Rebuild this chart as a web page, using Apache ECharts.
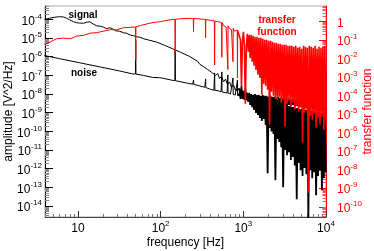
<!DOCTYPE html>
<html><head><meta charset="utf-8">
<script src="https://cdn.jsdelivr.net/npm/echarts@6/dist/echarts.min.js"></script>
<style>html,body{margin:0;padding:0;background:#fff}#c{width:374px;height:251px}</style>
</head><body><div id="c"></div>
<script>
// ---------- data ----------
const signalLowFreq = [3.95,4.54,5.22,6.0,6.71,7.3,7.93,8.87,9.64,10.5,11.7,12.7,13.9,15.5,16.8,18.8,20.5,22.3,24.2,26.3,28.6,32.0,35.7,38.9,43.5,47.2,51.4,55.8,62.4,73.8,89.7,112,140,175,225,281,297,314,332,351,371,392,415,438,463,489,517,546,577,610,645,681,720,761,804];
const signalLowPSD = [1.0e-4,1.16e-4,1.31e-4,1.40e-4,1.35e-4,1.16e-4,9.6e-5,7.5e-5,6.65e-5,6.4e-5,6.25e-5,7.1e-5,7.5e-5,5.5e-5,4.6e-5,4.3e-5,3.8e-5,3.16e-5,3.6e-5,3.16e-5,2.47e-5,2.32e-5,1.93e-5,1.81e-5,1.42e-5,1.33e-5,1.17e-5,1.13e-5,9.2e-6,7.6e-6,6.1e-6,4.1e-6,2.66e-6,1.72e-6,1.03e-6,5.7e-7,4.0e-7,4.9e-7,2.9e-7,3.6e-7,2.07e-7,2.53e-7,1.45e-7,1.79e-7,9.9e-8,1.28e-7,6.8e-8,9.0e-8,4.5e-8,6.3e-8,3.2e-8,4.5e-8,2.3e-8,3.1e-8,1.6e-8];

const noiseLowFreq = [3.95,6.0,10.5,18.8,32,46,49.7,50,50.3,62,80,97,99.5,100,100.5,103,140,149,150,151,200,245,248.5,250,251.5,300,343,348,350,352,400,441,447,450,453,500,539,547,550,553,600,637,646,650,654,700,735,745,750,755,800,833,845,850,855,867];
const noiseLowPSD = [1.16e-6,7.9e-7,4.75e-7,2.8e-7,1.72e-7,1.2e-7,1.2e-7,7.4e-6,1.18e-7,1.0e-7,7.8e-8,7.5e-8,7.4e-8,9.5e-8,7.4e-8,7.3e-8,5.4e-8,5.3e-8,2.2e-6,5.2e-8,4.0e-8,3.4e-8,3.35e-8,5.7e-8,3.3e-8,2.7e-8,2.3e-8,2.28e-8,6.5e-8,2.25e-8,1.8e-8,1.6e-8,1.59e-8,1.36e-7,1.58e-8,1.5e-8,1.32e-8,1.31e-8,1.54e-7,1.3e-8,1.2e-8,1.15e-8,1.14e-8,1.06e-7,1.12e-8,1.0e-8,9.7e-9,9.6e-9,7.3e-8,9.5e-9,8.9e-9,8.3e-9,8.2e-9,5.7e-8,8.1e-9,8.0e-9];

const tfLowFreq = [3.95,4.6,5.5,6.7,8.2,9.6,11.7,14.2,16.8,20.5,24.9,29.4,35.7,43.5,49.7,50,50.3,57.4,73.8,89.7,99.5,100,100.5,112,140,149,150,151,175,225,248.5,250,251.5,281,348,350,352,400,420,447,450,453,470,500,520,547,550,553,580,600,620,646,650,654,680,700,720,745,750,755,780,800,820,845,850,855];
const tfLowMag = [0.059,0.080,0.120,0.131,0.120,0.169,0.182,0.245,0.254,0.314,0.370,0.370,0.474,0.5,0.52,8.9e-3,0.53,0.63,0.83,0.96,1.0,0.8,1.02,1.13,1.33,1.35,0.020,1.36,1.45,1.51,1.5,0.29,1.49,1.45,1.33,0.136,1.3,1.2,1.0,1.1,4.5e-3,1.08,0.9,1.0,0.8,0.9,0.012,0.88,0.6,0.72,0.52,0.64,2.6e-3,0.6,0.43,0.52,0.37,0.47,6.9e-3,0.44,0.31,0.38,0.28,0.35,9.4e-4,0.33];

const hfFreq = [900,925,950,976,1003,1030,1058,1087,1117,1148,1179,1211,1244,1278,1313,1349,1386,1424,1463,1503,1544,1586,1630,1674,1720,1767,1816,1865,1916,1969,2023,2078,2135,2194,2254,2315,2379,2444,2511,2579,2650,2722,2797,2874,2952,3033,3116,3201,3289,3379,3471,3566,3664,3764,3867,3973,4081,4193,4308,4426,4547,4671,4799,4930,5065,5204,5346,5493,5643,5797,5956,6119,6286,6458,6635,6816,7003,7194,7391,7593,7801,8014,8233,8459,8690,8928,9172,9423,9681,9946];

const signalHfPSD = [1.9e-8,8.9e-9,1.7e-8,7.0e-9,1.5e-8,5.5e-9,1.3e-8,4.8e-9,1.15e-8,3.8e-9,
 1.0e-8,2.6e-9,8.9e-9,2.0e-9,7.9e-9,1.4e-9,7.9e-9,9.6e-10,7.0e-9,7.5e-10,
 6.2e-9,5.2e-10,6.2e-9,3.6e-10,5.5e-9,4.6e-10,4.8e-9,2.2e-10,4.8e-9,5.7e-13,
 4.3e-9,1.5e-10,4.3e-9,1.0e-10,3.8e-9,7.2e-11,3.8e-9,2.4e-13,3.3e-9,3.9e-11,
 3.3e-9,2.7e-11,2.9e-9,1.4e-11,2.9e-9,1.0e-13,2.6e-9,1.0e-11,2.6e-9,5.3e-12,
 2.3e-9,7.7e-12,2.3e-9,2.9e-12,2.0e-9,4.2e-12,2.0e-9,1.5e-12,1.8e-9,2.3e-14,
 1.8e-9,2.0e-12,1.6e-9,8.3e-13,1.6e-9,4.0e-13,1.4e-9,1.1e-12,1.4e-9,5.1e-13,
 1.4e-9,2e-15,1.2e-9,8.3e-13,1.2e-9,3.1e-13,1.2e-9,6.5e-13,1.1e-9,3.8e-14,
 1.1e-9,4.0e-13,1.1e-9,8.3e-13,9.6e-10,7.0e-14,9.6e-10,3.1e-13,9.6e-10,6.5e-13];

const noiseHfPSD = [1.15e-8,5.5e-9,2.7e-8,5.5e-9,1.15e-8,4.8e-9,2.1e-8,4.8e-9,1.0e-8,4.8e-9,
 1.15e-8,4.3e-9,1.0e-8,4.8e-9,8.9e-9,4.3e-9,1.0e-8,3.8e-9,8.9e-9,4.3e-9,
 8.9e-9,3.8e-9,7.9e-9,4.3e-9,8.9e-9,3.3e-9,7.9e-9,3.8e-9,7.9e-9,3.3e-9,
 7.0e-9,3.8e-9,7.9e-9,2.9e-9,7.0e-9,3.3e-9,7.0e-9,2.9e-9,6.2e-9,3.3e-9,
 7.0e-9,2.6e-9,6.2e-9,2.9e-9,6.2e-9,2.6e-9,5.5e-9,2.9e-9,6.2e-9,2.3e-9,
 5.5e-9,2.6e-9,5.5e-9,2.3e-9,4.8e-9,2.6e-9,5.5e-9,2.0e-9,4.8e-9,2.3e-9,
 4.8e-9,2.0e-9,4.3e-9,2.3e-9,4.8e-9,1.8e-9,4.3e-9,2.0e-9,4.3e-9,1.8e-9,
 3.8e-9,2.0e-9,4.3e-9,1.6e-9,3.8e-9,1.8e-9,3.8e-9,1.6e-9,3.3e-9,1.8e-9,
 3.8e-9,1.4e-9,3.3e-9,1.6e-9,3.3e-9,1.4e-9,2.9e-9,1.6e-9,3.3e-9,1.4e-9];

const tfHfMag = [0.326,0.106,3.1e-4,0.083,0.288,0.057,3.7e-5,0.039,0.225,0.024,
 0.198,0.011,0.198,6.9e-3,0.175,4.2e-3,0.155,2.5e-3,0.155,1.37e-3,
 0.137,9.4e-4,0.137,1.13e-4,0.12,4.5e-4,0.106,3.5e-4,0.106,2.1e-4,
 0.094,2.7e-6,0.094,1.65e-4,0.083,1.0e-4,0.073,6.9e-5,0.073,6.1e-5,
 0.065,8.8e-5,0.065,4.2e-5,0.057,6.1e-5,0.057,2.1e-6,0.057,3.7e-5,
 0.050,5.4e-5,0.050,2.6e-5,0.050,4.2e-5,0.045,1.8e-5,0.050,2.9e-5,
 0.039,1.37e-5,0.045,2.3e-5,0.035,2.9e-7,0.050,1.2e-5,0.045,1.8e-5,
 0.039,5.7e-10,0.050,8.3e-6,0.045,5.0e-6,0.039,1.06e-5,0.050,1.9e-6,
 0.035,6.5e-6,0.045,2.7e-6,0.039,7.3e-6,0.045,1.4e-6,0.050,5.0e-6];

// tick labels
const xMajorTicks = [10, 100, 1000, 10000];
const leftMajorTicks = [1e-14,1e-13,1e-12,1e-11,1e-10,1e-9,1e-8,1e-7,1e-6,1e-5,1e-4];
const rightMajorTicks = [1e-10,1e-9,1e-8,1e-7,1e-6,1e-5,1e-4,1e-3,1e-2,1e-1,1];

// ---------- build ----------
function minorOf(decades) {
  const out = [];
  decades.forEach(d => { for (let m = 2; m <= 9; m++) out.push(m * d); });
  return out;
}
const xMinorTicks = minorOf([1, 10, 100, 1000]);
const leftMinorTicks = minorOf([1e-15,1e-14,1e-13,1e-12,1e-11,1e-10,1e-9,1e-8,1e-7,1e-6,1e-5,1e-4]);
const rightMinorTicks = minorOf([1e-11,1e-10,1e-9,1e-8,1e-7,1e-6,1e-5,1e-4,1e-3,1e-2,1e-1,1]);

const zip = (a, b) => a.map((v, i) => [v, b[i]]);
const lastPair = (a, b) => [[a[a.length - 1], b[b.length - 1]]];
const signalLowData = zip(signalLowFreq, signalLowPSD);
const signalHfData = lastPair(signalLowFreq, signalLowPSD).concat(zip(hfFreq, signalHfPSD));
const noiseLowData = zip(noiseLowFreq, noiseLowPSD);
const noiseHfData = lastPair(noiseLowFreq, noiseLowPSD).concat(zip(hfFreq, noiseHfPSD));
const tfLowData = zip(tfLowFreq, tfLowMag);
const tfHfData = lastPair(tfLowFreq, tfLowMag).concat(zip(hfFreq, tfHfMag));

const FONT = '"Liberation Sans", Arial, Helvetica, sans-serif';
function powLabel(v) {
  const e = Math.round(Math.log10(v));
  if (e === 0) return '{b|1}';
  if (e === 1) return '{b|10}';
  return '{b|10}{s|' + e + '}';
}
function rich(color) {
  return {
    b: { fontSize: 12, lineHeight: 18, fontFamily: FONT, color: color },
    s: { fontSize: 8, lineHeight: 8, verticalAlign: 'top', fontFamily: FONT, color: color }
  };
}
const X_MIN = 4, X_MAX = 10000;
const YL_MIN = 2.57e-15, YL_MAX = 5.25e-4;
const YR_MIN = 2.82e-11, YR_MAX = 7.08;

function line(name, data, yIdx, color, width) {
  return { name: name, type: 'line', xAxisIndex: 0, yAxisIndex: yIdx, data: data, showSymbol: false, symbol: 'none',
    lineStyle: { color: color, width: width }, itemStyle: { color: color }, silent: true, animation: false };
}

const chart = echarts.init(document.getElementById('c'), null, { renderer: 'canvas' });
chart.setOption({
  animation: false,
  backgroundColor: '#fff',
  grid: { left: 45, top: 6, right: 48, bottom: 34, containLabel: false, outerBoundsMode: 'none',
          show: true, borderColor: '#aaaaaa', borderWidth: 1, backgroundColor: 'transparent' },
  xAxis: [
    { type: 'log', logBase: 10, min: X_MIN, max: X_MAX, position: 'bottom',
      name: 'frequency [Hz]', nameLocation: 'middle', nameGap: 20, nameMoveOverlap: false,
      nameTextStyle: { fontSize: 12, fontFamily: FONT, color: '#000' },
      axisLine: { show: true, onZero: false, lineStyle: { color: '#444', width: 1 } },
      axisTick: { show: true, inside: true, length: 6, customValues: xMajorTicks, lineStyle: { color: '#333' } },
      axisLabel: { show: true, customValues: xMajorTicks, formatter: powLabel, rich: rich('#000'), margin: 3 },
      splitLine: { show: false }, minorTick: { show: false } },
    { type: 'log', logBase: 10, min: X_MIN, max: X_MAX, position: 'bottom',
      axisLine: { show: false },
      axisTick: { show: true, inside: true, length: 3, customValues: xMinorTicks, lineStyle: { color: '#777' } },
      axisLabel: { show: false }, splitLine: { show: false } }
  ],
  yAxis: [
    { type: 'log', logBase: 10, min: YL_MIN, max: YL_MAX, position: 'left',
      name: 'amplitude [V^2/Hz]', nameLocation: 'middle', nameGap: 30, nameRotate: 90, nameMoveOverlap: false,
      nameTextStyle: { fontSize: 12, fontFamily: FONT, color: '#000' },
      axisLine: { show: true, onZero: false, lineStyle: { color: '#000', width: 1 } },
      axisTick: { show: true, inside: true, length: 8, customValues: leftMajorTicks, lineStyle: { color: '#000' } },
      axisLabel: { show: true, customValues: leftMajorTicks, formatter: powLabel, rich: rich('#000'), margin: 3, padding: [4, 0, 0, 0] },
      splitLine: { show: false } },
    { type: 'log', logBase: 10, min: YL_MIN, max: YL_MAX, position: 'left',
      axisLine: { show: false },
      axisTick: { show: true, inside: true, length: 4, customValues: leftMinorTicks, lineStyle: { color: '#888' } },
      axisLabel: { show: false }, splitLine: { show: false } },
    { type: 'log', logBase: 10, min: YR_MIN, max: YR_MAX, position: 'right',
      name: 'transfer function', nameLocation: 'middle', nameGap: 36, nameRotate: 90, nameMoveOverlap: false,
      nameTextStyle: { fontSize: 12, fontFamily: FONT, color: '#ff0000' },
      axisLine: { show: true, onZero: false, lineStyle: { color: '#ff0000', width: 1 } },
      axisTick: { show: true, inside: true, length: 7, customValues: rightMajorTicks, lineStyle: { color: '#ff0000' } },
      axisLabel: { show: true, customValues: rightMajorTicks, formatter: powLabel, rich: rich('#ff0000'), margin: 11, padding: [3, 0, 0, 0] },
      splitLine: { show: false } },
    { type: 'log', logBase: 10, min: YR_MIN, max: YR_MAX, position: 'right',
      axisLine: { show: false },
      axisTick: { show: true, inside: true, length: 3.5, customValues: rightMinorTicks, lineStyle: { color: '#ff5555' } },
      axisLabel: { show: false }, splitLine: { show: false } }
  ],
  series: [
    line('signal', signalLowData, 0, '#000', 1),
    line('noise', noiseLowData, 0, '#000', 1),
    line('signal', signalHfData, 0, '#000', 1.8),
    line('noise', noiseHfData, 0, '#000', 1.6),
    line('transfer function', tfLowData, 2, '#ff0000', 1),
    line('transfer function', tfHfData, 2, '#ff0000', 1.6)
  ],
  graphic: [
    { type: 'text', x: 83, y: 15, silent: true,
      style: { text: 'signal', font: 'bold 10px "Liberation Sans", Arial, sans-serif', fill: '#000', align: 'center', verticalAlign: 'middle', textAlign: 'center', textVerticalAlign: 'middle' } },
    { type: 'text', x: 84, y: 73, silent: true,
      style: { text: 'noise', font: 'bold 10px "Liberation Sans", Arial, sans-serif', fill: '#000', align: 'center', verticalAlign: 'middle', textAlign: 'center', textVerticalAlign: 'middle' } },
    { type: 'text', x: 277, y: 20, silent: true,
      style: { text: 'transfer', font: 'bold 10px "Liberation Sans", Arial, sans-serif', fill: '#ff0000', align: 'center', verticalAlign: 'middle', textAlign: 'center', textVerticalAlign: 'middle' } },
    { type: 'text', x: 277, y: 32, silent: true,
      style: { text: 'function', font: 'bold 10px "Liberation Sans", Arial, sans-serif', fill: '#ff0000', align: 'center', verticalAlign: 'middle', textAlign: 'center', textVerticalAlign: 'middle' } }
  ]
});
</script></body></html>
